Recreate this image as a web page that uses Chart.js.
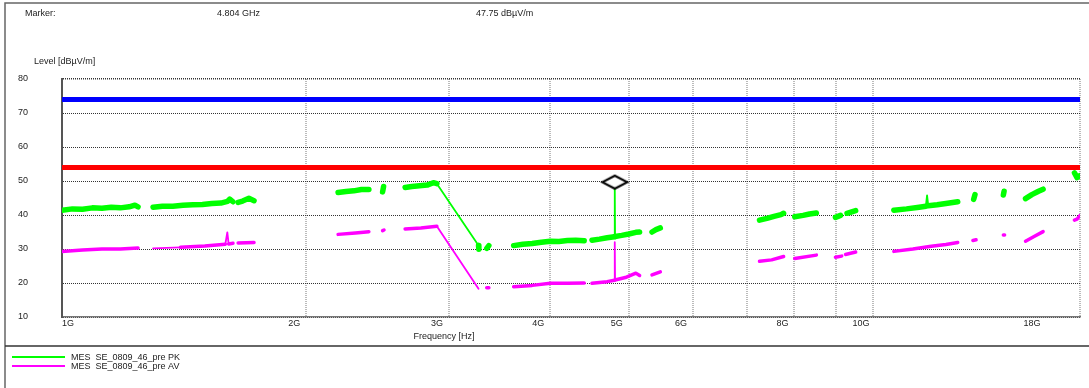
<!DOCTYPE html>
<html>
<head>
<meta charset="utf-8">
<style>
  html, body { margin: 0; padding: 0; background: #fff; }
  #chart { display: block; }
</style>
</head>
<body>
<canvas id="chart" width="1089" height="388"></canvas>
<script src="https://cdn.jsdelivr.net/npm/chart.js"></script>
<script>
// frequency in GHz, level in dBuV/m; null level = gap between sweep bands
const pkFreq = [1.00, 1.03, 1.06, 1.09, 1.12, 1.15, 1.18, 1.21, 1.23, 1.241, 1.27,
  1.295, 1.33, 1.37, 1.41, 1.45, 1.49, 1.53, 1.57, 1.60, 1.61, 1.625, 1.637,
  1.649, 1.67, 1.70, 1.725, 2.0,
  2.19, 2.24, 2.29, 2.34, 2.39, 2.44, 2.485, 2.492, 2.57,
  2.649, 2.70, 2.76, 2.82, 2.87, 2.899, 3.263, 3.266, 3.30, 3.34, 3.36, 3.48,
  3.605, 3.70, 3.80, 3.90, 4.00, 4.10, 4.20, 4.30, 4.405, 4.45,
  4.503, 4.60, 4.70, 4.80, 4.804, 4.808, 4.90, 5.00, 5.10, 5.155, 5.25,
  5.34, 5.40, 5.467, 6.5,
  7.246, 7.40, 7.55, 7.70, 7.759, 7.88, 8.007, 8.20, 8.35, 8.515, 8.75,
  8.989, 9.12, 9.2, 9.29, 9.52, 10.0,
  10.61, 11.0, 11.4, 11.62, 11.66, 11.70, 12.0, 12.3, 12.72, 13.0,
  13.31, 13.36, 13.9, 14.48, 14.51, 15.0,
  15.42, 15.7, 16.0, 16.21, 17.0, 17.72, 17.85, 18.0];
const pkLevel = [41.4, 41.8, 41.7, 42.1, 42.0, 42.3, 42.1, 42.4, 42.9, 42.4, null,
  42.3, 42.6, 42.6, 42.9, 43.0, 43.1, 43.4, 43.5, 44.0, 44.7, 43.9, null,
  43.7, 44.1, 44.9, 44.2, null,
  46.6, 46.9, 47.1, 47.5, 47.5, null, 46.8, 48.4, null,
  48.1, 48.4, 48.6, 48.8, 49.5, 49.2, 31.0, 29.9, null, 30.2, 31.0, null,
  31.0, 31.4, 31.6, 32.0, 32.3, 32.2, 32.5, 32.6, 32.4, null,
  32.6, 32.9, 33.3, 33.6, 47.75, 33.7, 34.0, 34.4, 34.9, 35.0, null,
  35.0, 35.7, 36.2, null,
  38.5, 39.0, 39.6, 40.1, 40.5, null, 39.5, 39.9, 40.3, 40.6, null,
  39.3, 39.9, null, 40.5, 41.3, null,
  41.4, 41.8, 42.3, 42.6, 45.8, 42.7, 43.0, 43.4, 43.9, null,
  44.6, 46.0, null, 45.9, 47.0, null,
  44.8, 46.0, 47.0, 47.6, null, 52.4, 51.0, 51.6];

const avFreq = [1.00, 1.06, 1.12, 1.18, 1.241, 1.27,
  1.295, 1.40, 1.50, 1.59, 1.599, 1.605, 1.625, 1.637, 1.649, 1.725, 2.0,
  2.19, 2.30, 2.39, 2.44, 2.485, 2.495, 2.57,
  2.649, 2.77, 2.899, 3.263, 3.30, 3.34, 3.36, 3.48,
  3.605, 3.80, 4.00, 4.20, 4.405, 4.45,
  4.503, 4.70, 4.80, 4.804, 4.808, 4.95, 5.10, 5.155, 5.25, 5.34, 5.467, 6.5,
  7.246, 7.50, 7.759, 7.88, 8.007, 8.515, 8.75,
  8.989, 9.15, 9.2, 9.25, 9.52, 10.0,
  10.61, 11.2, 11.8, 12.3, 12.72, 13.0, 13.28, 13.40, 13.9, 14.48, 14.53, 15.0,
  15.42, 15.8, 16.21, 17.0, 17.72, 17.85, 18.0];
const avLevel = [29.3, 29.7, 30.0, 30.0, 30.3, null,
  30.2, 30.5, 30.9, 31.4, 34.9, 31.5, 31.7, null, 31.8, 31.9, null,
  34.3, 34.7, 35.1, null, 35.4, 35.6, null,
  35.9, 36.2, 36.7, 18.3, null, 18.6, 18.6, null,
  18.9, 19.3, 19.9, 19.9, 20.0, null,
  19.9, 20.4, 20.8, 32.0, 20.9, 21.6, 22.9, 22.2, null, 22.4, 23.3, null,
  26.4, 26.8, 27.8, null, 27.2, 28.2, null,
  27.6, 27.9, null, 28.4, 29.1, null,
  29.3, 30.0, 30.8, 31.3, 31.9, null, 32.5, 32.7, null, 34.1, 34.1, null,
  32.3, 33.7, 35.1, null, 38.5, 38.8, 39.8];

const limitFreq = [1, 18];
const limitPK = [74, 74];
const limitAV = [54, 54];

const markerFreq = [4.804];
const markerLevel = [47.75];

const xTickValues = [1, 2, 3, 4, 5, 6, 7, 8, 9, 10, 18];
const xTickLabels = ['1G', '2G', '3G', '4G', '5G', '6G', '', '8G', '', '10G', '18G'];
const yMin = 10, yMax = 80, yStep = 10;

const seriesNames = ['MES  SE_0809_46_pre PK', 'MES  SE_0809_46_pre AV'];

const FONT = '"Liberation Sans", Arial, sans-serif';
Chart.defaults.font.family = FONT;
Chart.defaults.font.size = 9;
Chart.defaults.color = '#222';

function pts(xs, ys) {
  return xs.map((x, i) => ({ x: x, y: ys[i] }));
}

// thin line for the interpolated jumps and spikes, thick band for the sweep itself
function segWidth(thick, thin) {
  return ctx => {
    const a = ctx.p0.parsed, b = ctx.p1.parsed;
    if (b.x / a.x > 1.08 || Math.abs(b.y - a.y) > 2.5) return thin;
    return thick;
  };
}

const diamond = document.createElement('canvas');
diamond.width = 30;
diamond.height = 30;
(function () {
  const d = diamond.getContext('2d');
  d.beginPath();
  d.moveTo(15, 2);
  d.lineTo(27.5, 8.5);
  d.lineTo(15, 15);
  d.lineTo(2.5, 8.5);
  d.closePath();
  d.fillStyle = '#fff';
  d.fill();
  d.lineWidth = 2;
  d.strokeStyle = '#000';
  d.stroke();
})();

const framePlugin = {
  id: 'frame',
  beforeDraw(chart) {
    const c = chart.ctx;
    c.save();
    c.fillStyle = '#fff';
    c.fillRect(0, 0, chart.width, chart.height);
    c.strokeStyle = '#666';
    c.lineWidth = 1.5;
    c.beginPath();
    c.moveTo(5, 388); c.lineTo(5, 3); c.lineTo(1089, 3);
    c.stroke();
    c.strokeStyle = '#333';
    c.beginPath();
    c.moveTo(5, 346); c.lineTo(1089, 346);
    c.stroke();
    c.restore();
  },
  afterDraw(chart) {
    const c = chart.ctx;
    const xs = chart.scales.x;
    const area = chart.chartArea;
    c.save();
    c.fillStyle = '#222';
    c.font = '9px ' + FONT;
    c.textBaseline = 'middle';
    c.textAlign = 'left';
    c.fillText('Marker:', 25, 14);
    c.fillText(markerFreq[0].toFixed(3) + ' GHz', 217, 14);
    c.fillText(markerLevel[0].toFixed(2) + ' dBµV/m', 476, 14);
    c.fillText('Level [dBµV/m]', 34, 62);

    // frequency labels sit a little left of their grid line, first one kept inside the plot
    c.textAlign = 'center';
    xTickValues.forEach((v, i) => {
      const txt = xTickLabels[i];
      if (!txt) return;
      const w = c.measureText(txt).width;
      let px = xs.getPixelForValue(v) - 12;
      if (i === xTickValues.length - 1) px -= 36;
      if (px - w / 2 < area.left) px = area.left + w / 2;
      c.fillText(txt, px, area.bottom + 7);
    });
    c.fillText('Frequency [Hz]', 444, 337);

    // legend
    c.textAlign = 'left';
    [0, 1].forEach(i => {
      const y = 357 + i * 9;
      c.strokeStyle = chart.data.datasets[i].borderColor;
      c.lineWidth = 2;
      c.beginPath();
      c.moveTo(12, y); c.lineTo(65, y);
      c.stroke();
      c.fillText(chart.data.datasets[i].label, 71, y + 1);
    });
    c.restore();
  }
};

new Chart(document.getElementById('chart'), {
  type: 'line',
  data: {
    datasets: [
      {
        label: seriesNames[0],
        data: pts(pkFreq, pkLevel),
        borderColor: '#00ff00',
        borderWidth: 5.5,
        borderJoinStyle: 'round',
        borderCapStyle: 'round',
        pointRadius: 0,
        spanGaps: false,
        segment: { borderWidth: segWidth(5.5, 1.8) },
        order: 3
      },
      {
        label: seriesNames[1],
        data: pts(avFreq, avLevel),
        borderColor: '#ff00ff',
        borderWidth: 3.5,
        borderJoinStyle: 'round',
        borderCapStyle: 'round',
        pointRadius: 0,
        spanGaps: false,
        segment: { borderWidth: segWidth(3.5, 1.8) },
        order: 2
      },
      {
        label: 'limit PK',
        data: pts(limitFreq, limitPK),
        borderColor: '#0000ff',
        borderWidth: 5,
        pointRadius: 0,
        order: 4
      },
      {
        label: 'limit AV',
        data: pts(limitFreq, limitAV),
        borderColor: '#ff0000',
        borderWidth: 5,
        pointRadius: 0,
        order: 4
      },
      {
        label: 'marker',
        data: pts(markerFreq, markerLevel),
        showLine: false,
        pointStyle: diamond,
        pointRadius: 6,
        order: 1
      }
    ]
  },
  options: {
    responsive: false,
    animation: false,
    devicePixelRatio: 1,
    layout: { padding: { left: 0, right: 9, top: 79, bottom: 0 } },
    plugins: { legend: { display: false }, tooltip: { enabled: false } },
    scales: {
      x: {
        type: 'logarithmic',
        min: 1,
        max: 18,
        afterBuildTicks: s => { s.ticks = xTickValues.map(v => ({ value: v })); },
        afterFit: s => { s.height = 71; },
        ticks: { display: false },
        grid: { color: '#bbb', lineWidth: 2, drawTicks: false },
        border: { color: '#777', width: 1.5, dash: [1, 1] }
      },
      y: {
        min: yMin,
        max: yMax,
        afterFit: s => { s.width = 62; },
        ticks: { stepSize: yStep, padding: 34 },
        grid: {
          color: '#333',
          lineWidth: ctx => (ctx.tick && ctx.tick.value === yMax ? 1.5 : 1),
          drawTicks: false
        },
        border: { color: '#555', width: 2, dash: [1, 1] }
      }
    }
  },
  plugins: [framePlugin]
});
</script>
</body>
</html>
